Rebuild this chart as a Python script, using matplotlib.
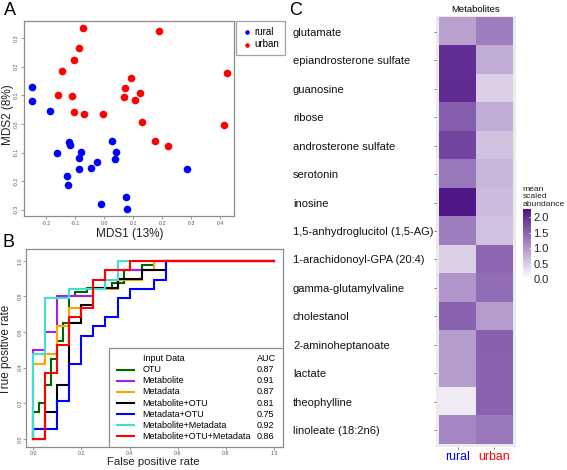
import matplotlib
matplotlib.use("Agg")
import matplotlib.pyplot as plt
import numpy as np
from matplotlib.colors import LinearSegmentedColormap
from matplotlib.patches import Rectangle
from matplotlib.lines import Line2D

plt.rcParams['font.family'] = ['Liberation Sans', 'DejaVu Sans']

# ---------------- Panel A data (MDS) ----------------
rural_x = [-0.251, -0.248, -0.187, -0.123, -0.119, -0.163, -0.082, -0.088, 0.027, 0.039,
           0.036, -0.027, -0.045, -0.087, -0.128, -0.127, 0.286, -0.013, 0.075, 0.078]
rural_y = [0.129, 0.079, 0.045, -0.064, -0.073, -0.101, -0.098, -0.118, -0.061, -0.098,
           -0.122, -0.132, -0.153, -0.159, -0.182, -0.213, -0.159, -0.280, -0.255, -0.297]
urban_x = [-0.073, 0.190, -0.089, -0.103, -0.146, 0.423, 0.091, 0.070, 0.122, -0.161,
           -0.113, 0.068, 0.104, -0.105, -0.070, -0.005, 0.130, 0.413, 0.176, 0.218]
urban_y = [0.337, 0.326, 0.265, 0.224, 0.185, 0.179, 0.160, 0.125, 0.108, 0.100,
           0.099, 0.093, 0.084, 0.043, 0.033, 0.035, 0.006, -0.003, -0.058, -0.076]
mds_xticks = [-0.2, -0.1, 0.0, 0.1, 0.2, 0.3, 0.4]
mds_yticks = [-0.3, -0.2, -0.1, 0.0, 0.1, 0.2, 0.3]

# ---------------- Panel B data (ROC) ----------------
roc_names = ["OTU", "Metabolite", "Metadata", "Metabolite+OTU", "Metadata+OTU",
             "Metabolite+Metadata", "Metabolite+OTU+Metadata"]
roc_auc = ["0.87", "0.91", "0.87", "0.81", "0.75", "0.92", "0.86"]
roc_colors = ["#006400", "#A020F0", "#FFA500", "#000000", "#0000FF", "#40E0D0", "#FF0000"]
fpr_otu = [0, 0, .025, .025, .05, .05, .075, .075, .1, .1, .125, .125, .15, .15, .175, .175,
           .225, .225, .325, .325, .375, .375, .45, .45, .5, .5, 1]
tpr_otu = [0, .15, .15, .2, .2, .3, .3, .45, .45, .55, .55, .65, .65, .8, .8, .825,
           .825, .85, .85, .875, .875, .95, .95, .975, .975, 1, 1]
fpr_metab = [0, 0, .05, .05, .1, .1, .25, .25, .3, .3, .5, .5, 1]
tpr_metab = [0, .5, .5, .6, .6, .8, .8, .85, .85, .95, .95, 1, 1]
fpr_meta = [0, 0, .05, .05, .1, .1, .15, .15, .25, .25, .35, .35, .45, .45, .5, .5, 1]
tpr_meta = [0, .421, .421, .474, .474, .632, .632, .737, .737, .842, .842, .895, .895,
            .947, .947, 1, 1]
fpr_metab_otu = [0, .05, .05, .1, .1, .15, .15, .2, .2, .25, .25, .35, .35, .45, .45, .55, .55, 1]
tpr_metab_otu = [0, 0, .15, .15, .3, .3, .65, .65, .75, .75, .85, .85, .9, .9, .95, .95, 1, 1]
fpr_meta_otu = [0, 0, .1, .1, .15, .15, .2, .2, .25, .25, .3, .3, .35, .35, .4, .4, .5, .5,
                .55, .55, 1]
tpr_meta_otu = [0, .053, .053, .211, .211, .421, .421, .579, .579, .632, .632, .684, .684,
                .789, .789, .842, .842, .895, .895, 1, 1]
fpr_metab_meta = [0, 0, .05, .05, .15, .15, .3, .3, .35, .35, 1]
tpr_metab_meta = [0, .474, .474, .789, .789, .842, .842, .895, .895, 1, 1]
fpr_all = [0, .05, .05, .1, .1, .15, .15, .2, .2, .25, .25, .3, .3, .4, .4, 1]
tpr_all = [0, 0, .368, .368, .526, .526, .684, .684, .737, .737, .895, .895, .947, .947, 1, 1]
roc_fpr = [fpr_otu, fpr_metab, fpr_meta, fpr_metab_otu, fpr_meta_otu, fpr_metab_meta, fpr_all]
roc_tpr = [tpr_otu, tpr_metab, tpr_meta, tpr_metab_otu, tpr_meta_otu, tpr_metab_meta, tpr_all]
roc_ticks = [0.0, 0.2, 0.4, 0.6, 0.8, 1.0]

# ---------------- Panel C data (heatmap) ----------------
metabolites = ["glutamate", "epiandrosterone sulfate", "guanosine", "ribose",
               "androsterone sulfate", "serotonin", "inosine", "1,5-anhydroglucitol (1,5-AG)",
               "1-arachidonoyl-GPA (20:4)", "gamma-glutamylvaline", "cholestanol",
               "2-aminoheptanoate", "lactate", "theophylline", "linoleate (18:2n6)"]
groups = ["rural", "urban"]
group_colors = ["#0000FF", "#FF0000"]
rural_vals = [0.90, 2.00, 2.02, 1.55, 1.78, 1.30, 2.22, 1.25, 0.45, 1.00, 1.50, 0.95, 0.95, 0.20, 1.15]
urban_vals = [1.25, 0.80, 0.45, 0.80, 0.60, 0.70, 0.65, 0.60, 1.45, 1.40, 0.95, 1.52, 1.50, 1.50, 1.30]
cbar_ticks = [0.0, 0.5, 1.0, 1.5, 2.0]

W, H = 567, 470
fig = plt.figure(figsize=(W / 100, H / 100), dpi=100)

def ax_px(l, t, r, b):
    return fig.add_axes([l / W, (H - b) / H, (r - l) / W, (b - t) / H])

edge = "#8c8c8c"
tickcol = "#555555"

# ---------------- Panel A ----------------
axA = ax_px(24, 21, 234, 216)
axA.scatter(rural_x, rural_y, s=30, color="#0000FF", label="rural", zorder=3, linewidths=0)
axA.scatter(urban_x, urban_y, s=30, color="#FF0000", label="urban", zorder=3, linewidths=0)
axA.set_xlim(-0.277, 0.447)
axA.set_ylim(-0.322, 0.36)
axA.set_xticks(mds_xticks)
axA.set_xticklabels([f"{v:.1f}" for v in mds_xticks])
axA.set_yticks(mds_yticks)
axA.set_yticklabels([f"{v:.1f}" for v in mds_yticks], rotation=90, va="center")
axA.tick_params(labelsize=3.8, labelcolor=tickcol, color=edge, length=2.5, width=0.6, pad=1.2)
for s in axA.spines.values():
    s.set_color(edge)
    s.set_linewidth(0.9)
axA.set_xlabel("MDS1 (13%)", fontsize=8.5, color="#222222")
axA.xaxis.set_label_coords(0.502, -0.062)
axA.set_ylabel("MDS2 (8%)", fontsize=8.5, color="#222222")
axA.yaxis.set_label_coords(-0.048, 0.52)
legA = axA.legend(loc="upper left", bbox_to_anchor=(1.01, 1.0), fontsize=7, frameon=True,
                  fancybox=False, edgecolor=edge, handletextpad=0.25, borderpad=0.6,
                  labelspacing=0.25, handlelength=1.0, markerscale=0.6, borderaxespad=0)
legA.get_frame().set_linewidth(0.9)

# ---------------- Panel B ----------------
bL, bT, bR, bB = 26, 249.3, 283, 447.0
axB = ax_px(bL, bT, bR, bB)
bw, bh = bR - bL, bB - bT
for fx, ty, col in zip(roc_fpr, roc_tpr, roc_colors):
    axB.plot(fx, ty, color=col, lw=1.5, solid_joinstyle="miter")
axB.set_xlim(-0.03, 1.037)
axB.set_ylim(-0.046, 1.065)
axB.set_xticks(roc_ticks)
axB.set_xticklabels([f"{v:.1f}" for v in roc_ticks])
axB.set_yticks(roc_ticks)
axB.set_yticklabels([f"{v:.1f}" for v in roc_ticks], rotation=90, va="center")
axB.tick_params(labelsize=3.8, labelcolor=tickcol, color=edge, length=2.0, width=0.6, pad=0.6)
for s in axB.spines.values():
    s.set_color(edge)
    s.set_linewidth(0.9)
axB.set_xlabel("False positive rate", fontsize=8.2, color="#222222")
axB.xaxis.set_label_coords(0.497, -(457.2 - bB) / bh)
axB.set_ylabel("True positive rate", fontsize=8.5, color="#222222")
axB.yaxis.set_label_coords(-0.055, 0.49)

# legend box (bottom-right, R style)
leg_top = 347.5
lx0 = (109 - bL) / bw
ly1 = (bB - leg_top) / bh
axB.add_patch(Rectangle((lx0, 0), 1 - lx0, ly1, transform=axB.transAxes, fill=True,
                        facecolor="white", edgecolor=edge, lw=0.9, zorder=5))
lfs = 6.5
line_x0 = (116.7 - bL) / bw
line_x1 = (134 - bL) / bw
text_x = (142.7 - bL) / bw
auc_x = (256.7 - bL) / bw
y_title = (bB - (leg_top + 11.2)) / bh
dy = 11.1 / bh
axB.text(text_x, y_title, "Input Data", transform=axB.transAxes, fontsize=lfs,
         va="center", ha="left", zorder=6)
axB.text(auc_x, y_title, "AUC", transform=axB.transAxes, fontsize=lfs,
         va="center", ha="left", zorder=6)
for i, (nm, auc, col) in enumerate(zip(roc_names, roc_auc, roc_colors)):
    yy = y_title - (i + 1) * dy
    axB.add_line(Line2D([line_x0, line_x1], [yy, yy], transform=axB.transAxes,
                        color=col, lw=1.5, zorder=6))
    axB.text(text_x, yy, nm, transform=axB.transAxes, fontsize=lfs, va="center",
             ha="left", zorder=6)
    axB.text(auc_x, yy, auc, transform=axB.transAxes, fontsize=lfs, va="center",
             ha="left", zorder=6)

# ---------------- Panel C ----------------
vmax = 2.26
cmap = LinearSegmentedColormap.from_list("purp", ["#FFFFFF", "#4E1488"])
vals = np.column_stack([rural_vals, urban_vals])
axC = ax_px(436, 16, 516, 446.7)
axC.set_facecolor("#EBEBEB")
im = axC.imshow(vals, cmap=cmap, vmin=0, vmax=vmax, aspect="auto", interpolation="nearest")
axC.set_xlim(-0.59, 1.59)
axC.set_ylim(14.584, -0.56)
for s in axC.spines.values():
    s.set_visible(False)
axC.set_yticks(range(len(metabolites)))
axC.set_yticklabels(metabolites, fontsize=8, color="#111111")
axC.tick_params(axis="y", length=1.5, width=0.5, color="#333333", pad=101.5)
for lab in axC.get_yticklabels():
    lab.set_horizontalalignment("left")
axC.set_xticks([0, 1])
axC.set_xticklabels(groups, fontsize=8.8)
for lab, c in zip(axC.get_xticklabels(), group_colors):
    lab.set_color(c)
axC.tick_params(axis="x", length=1.5, width=0.5, color="#333333", pad=1.5)
axC.set_title("Metabolites", fontsize=6.8, pad=3)

cax = ax_px(522.7, 209, 530.7, 279)
cb = fig.colorbar(im, cax=cax, ticks=cbar_ticks)
cb.outline.set_visible(False)
cax.set_yticklabels([f"{v:.1f}" for v in cbar_ticks])
cax.tick_params(length=1.8, color="white", direction="in", width=0.6, labelsize=8, pad=2,
                labelcolor="#222222")
cax.text(0, 1.02, "mean\nscaled\nabundance", transform=cax.transAxes, fontsize=6.1,
         ha="left", va="bottom", linespacing=1.1, color="#222222")

# panel labels
fig.text(4 / W, 1 - 2 / H, "A", fontsize=13, va="top", ha="left")
fig.text(3 / W, 1 - 234 / H, "B", fontsize=13, va="top", ha="left")
fig.text(289 / W, 1 - 2 / H, "C", fontsize=13, va="top", ha="left")

fig.savefig("out.png", dpi=100)
